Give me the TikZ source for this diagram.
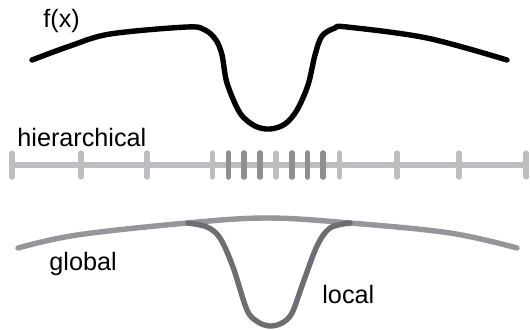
\documentclass[tikz,border=0pt]{standalone}
\usepackage{fontspec}
\setmainfont{Liberation Sans}
\definecolor{axlight}{HTML}{BEBEC2}
\definecolor{axdark}{HTML}{8F8F93}
\definecolor{glob}{HTML}{95959A}
\definecolor{loc}{HTML}{6E6E72}
\begin{document}
\begin{tikzpicture}[x=0.5pt,y=-0.5pt,
  lbl/.style={inner sep=0pt,anchor=base west,font=\fontsize{12.6}{15}\selectfont},
  curve/.style={line width=2.7pt,line cap=round,line join=round},
  lt/.style={line width=2.6pt,line cap=round,draw=axlight},
  dt/.style={line width=2.8pt,line cap=round,draw=axdark}]
\useasboundingbox (0,0) rectangle (530,329);
% top function
\draw[curve,black] plot[smooth,tension=0.55] coordinates {(32,60) (70,46) (110,34) (187,27) (205,30) (216,40) (222,55) (227,83) (240,113) (255,126) (270,129) (285,124) (297,110) (308,85) (315,55) (322,36) (335,28) (347,27) (427,38) (507,60)};
\node[lbl] (fx) at (43,27) {f(x)};
% hierarchical axis
\node[lbl] (hier) at (17,146) {hierarchical};
\draw[line width=3pt,draw=axlight] (12,165) -- (528,165);
\foreach \x in {12,81,147,212.5,276,339.5,397,459,526}
  \draw[lt] (\x,153) -- (\x,177);
\foreach \x in {228.5,244,260,291.7,307.4,323}
  \draw[dt] (\x,153) -- (\x,177);
% bottom global / local
\draw[curve,glob] plot[smooth,tension=0.6] coordinates {(18,248) (77,235) (187,223) (267,218) (350,223) (450,233) (517,248)};
\draw[curve,loc] plot[smooth,tension=0.55] coordinates {(188,223) (207,227) (220,238) (233,267) (247,310) (258,322) (270,326) (282,323) (292,313) (303,283) (317,246) (330,228) (350,223)};
\node[lbl] (global) at (49,270) {global};
\node[lbl] (local) at (322,303) {local};
\end{tikzpicture}
\end{document}
